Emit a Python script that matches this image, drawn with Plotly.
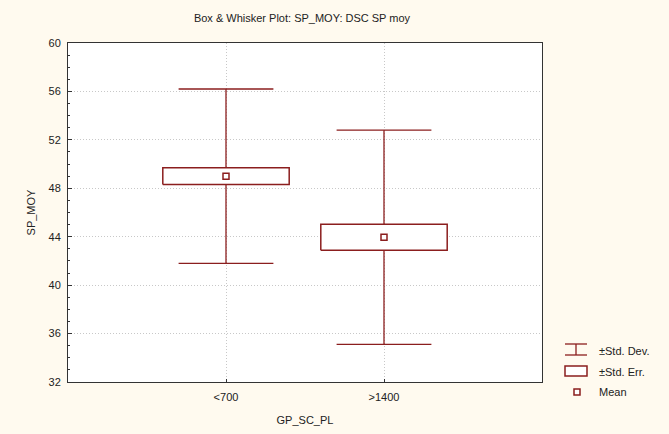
import plotly.graph_objects as go

# ---- data ----
categories = ["<700", ">1400"]
means = [49.0, 43.95]
std_err = [0.69, 1.07]
std_dev = [7.2, 8.85]
y_ticks = [32, 36, 40, 44, 48, 52, 56, 60]
title = "Box & Whisker Plot: SP_MOY: DSC SP moy"

RED = "#8B1E1E"
BG = "#FFFAEF"
W, H = 669, 434
L, R, T, B = 68, 542, 43, 382  # plot area pixels

fig = go.Figure()
pos = list(range(1, len(categories) + 1))
box_half = 0.4
cap_half = 0.3

for i, m, se, sd in zip(pos, means, std_err, std_dev):
    fig.add_trace(go.Scatter(
        x=[i, i, None, i, i], y=[m + sd, m + se, None, m - se, m - sd],
        mode="lines", line=dict(color=RED, width=1.3), hoverinfo="skip", showlegend=False))
    fig.add_trace(go.Scatter(
        x=[i - cap_half, i + cap_half, None, i - cap_half, i + cap_half],
        y=[m + sd, m + sd, None, m - sd, m - sd],
        mode="lines", line=dict(color=RED, width=1.3), hoverinfo="skip", showlegend=False))
    fig.add_trace(go.Scatter(
        x=[i - box_half, i + box_half, i + box_half, i - box_half, i - box_half],
        y=[m - se, m - se, m + se, m + se, m - se],
        mode="lines", fill="toself", fillcolor="white",
        line=dict(color=RED, width=1.5), hoverinfo="skip", showlegend=False))

fig.add_trace(go.Scatter(
    x=pos, y=means, mode="markers",
    marker=dict(symbol="square-open", size=6, color=RED, line=dict(width=1.5)),
    showlegend=False))

axis_font = dict(family="Liberation Sans, Arial, sans-serif", size=11, color="#222")
GRID = "#C8C8C8"

fig.update_layout(
    width=W, height=H,
    margin=dict(l=L, r=W - R, t=T, b=H - B, autoexpand=False),
    paper_bgcolor=BG, plot_bgcolor="white",
    font=axis_font,
    title=dict(text=title, x=302 / W, xanchor="center", y=1 - 18 / H, yanchor="middle",
               font=dict(size=11, color="#222")),
    xaxis=dict(range=[0, 3], tickvals=pos, ticktext=categories, automargin=False,
               showgrid=True, gridcolor=GRID, griddash="1px,2px", gridwidth=1,
               showline=True, linecolor="#333", linewidth=1, mirror=True,
               ticks="inside", ticklen=3, tickcolor="#333", zeroline=False,
               ticklabelstandoff=5,
               title=dict(text="GP_SC_PL", standoff=14, font=dict(size=11))),
    yaxis=dict(range=[32, 60], tickvals=y_ticks, automargin=False,
               showgrid=True, gridcolor=GRID, griddash="1px,2px", gridwidth=1,
               showline=True, linecolor="#333", linewidth=1, mirror=True,
               ticks="inside", ticklen=4, tickcolor="#333", zeroline=False,
               ticklabelstandoff=4,
               minor=dict(dtick=1, ticks="inside", ticklen=2, tickcolor="#333", showgrid=False),
               title=dict(text="SP_MOY", standoff=10, font=dict(size=11))),
)

# ---- legend (drawn manually) ----
def px(xp):
    return (xp - L) / (R - L)

def py(yp):
    return (B - yp) / (B - T)

for x0, y0, x1, y1 in [(565, 344, 587, 344), (565, 355, 587, 355), (576, 344, 576, 355)]:
    fig.add_shape(type="line", xref="paper", yref="paper", x0=px(x0), y0=py(y0), x1=px(x1), y1=py(y1),
                  line=dict(color=RED, width=1.3))
fig.add_shape(type="rect", xref="paper", yref="paper", x0=px(565), y0=py(366), x1=px(587), y1=py(376),
              line=dict(color=RED, width=1.5), fillcolor="white")
fig.add_shape(type="rect", xref="paper", yref="paper", x0=px(574), y0=py(389), x1=px(580), y1=py(395),
              line=dict(color=RED, width=1.5), fillcolor="white")

for text, yp in [("±Std. Dev.", 351), ("±Std. Err.", 372), ("Mean", 392)]:
    fig.add_annotation(text=text, xref="paper", yref="paper", x=px(597), y=py(yp),
                       xanchor="left", yanchor="middle", showarrow=False,
                       font=dict(size=11, color="#222"))

fig.write_html(
    "out.html",
    config={"displayModeBar": False},
    post_script="document.body.style.margin='0';document.body.style.background='%s';" % BG,
)
